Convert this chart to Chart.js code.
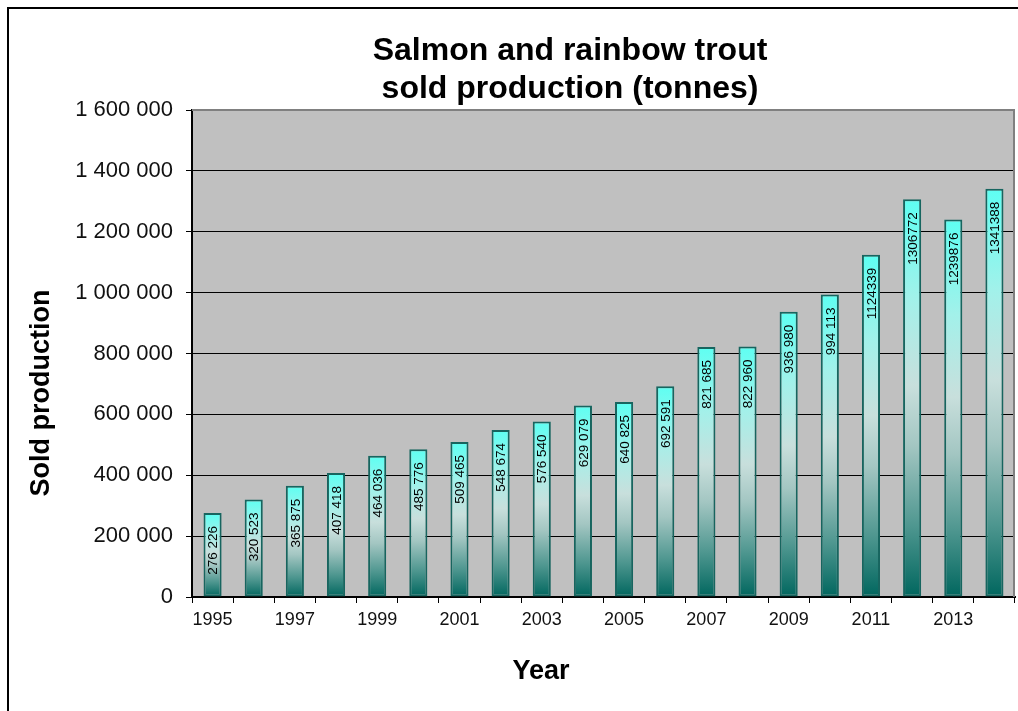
<!DOCTYPE html>
<html>
<head>
<meta charset="utf-8">
<script src="https://cdn.jsdelivr.net/npm/chart.js@4.4.1/dist/chart.umd.min.js"></script>
<style>
  html, body { margin: 0; padding: 0; background: #fff; }
  #wrap { width: 1018px; height: 711px; position: relative; }
</style>
</head>
<body>
<div id="wrap"><canvas id="salmon"></canvas></div>
<script>
var years = ["1995", "1996", "1997", "1998", "1999", "2000", "2001", "2002", "2003", "2004",
             "2005", "2006", "2007", "2008", "2009", "2010", "2011", "2012", "2013", "2014"];
var sold = [276226, 320523, 365875, 407418, 464036, 485776, 509465, 548674, 576540, 629079,
            640825, 692591, 821685, 822960, 936980, 994113, 1124339, 1306772, 1239876, 1341388];
var yTicks = [0, 200000, 400000, 600000, 800000, 1000000, 1200000, 1400000, 1600000];

function spaced(n) {
  return String(n).replace(/\B(?=(\d{3})+(?!\d))/g, " ");
}
// values of a million and up are printed without grouping
function barText(n) {
  return n < 1000000 ? spaced(n) : String(n);
}

// each bar gets its own cyan -> pale -> teal fade
function barFill(c) {
  var chart = c.chart;
  if (!chart.chartArea || !chart.scales.y) return "#7fd9d0";
  var y = chart.scales.y;
  var top = y.getPixelForValue(c.raw);
  var base = y.getPixelForValue(0);
  var g = chart.ctx.createLinearGradient(0, top, 0, base);
  g.addColorStop(0, "#5efff2");
  g.addColorStop(0.25, "#a2f1ea");
  g.addColorStop(0.47, "#c8dfdc");
  g.addColorStop(0.62, "#a3c6c2");
  g.addColorStop(0.82, "#4f9790");
  g.addColorStop(1, "#00665e");
  return g;
}

var frame = {
  id: "frame",
  beforeDraw: function(chart) {
    var ctx = chart.ctx, a = chart.chartArea;
    ctx.save();
    ctx.fillStyle = "#c0c0c0";
    ctx.fillRect(a.left, a.top, a.right - a.left, a.bottom - a.top);
    // outer chart border
    ctx.strokeStyle = "#000";
    ctx.lineWidth = 2;
    ctx.beginPath();
    ctx.moveTo(8, 711);
    ctx.lineTo(8, 8);
    ctx.lineTo(1018, 8);
    ctx.stroke();
    ctx.restore();
  },
  beforeDatasetsDraw: function(chart) {
    var ctx = chart.ctx, a = chart.chartArea;
    ctx.save();
    ctx.strokeStyle = "#808080";
    ctx.lineWidth = 2;
    ctx.beginPath();
    ctx.moveTo(a.left, a.top);
    ctx.lineTo(a.right - 1, a.top);
    ctx.lineTo(a.right - 1, a.bottom);
    ctx.stroke();
    ctx.restore();
  },
  afterDraw: function(chart) {
    var ctx = chart.ctx;
    ctx.save();
    ctx.fillStyle = "#000";
    ctx.textAlign = "center";
    ctx.textBaseline = "middle";
    ctx.font = "bold 32px 'Liberation Sans', Arial, sans-serif";
    ctx.fillText("Salmon and rainbow trout", 570, 51);
    ctx.fillText("sold production (tonnes)", 570, 89);
    ctx.font = "bold 27px 'Liberation Sans', Arial, sans-serif";
    ctx.fillText("Year", 541, 672);
    ctx.translate(42, 393);
    ctx.rotate(-Math.PI / 2);
    ctx.fillText("Sold production", 0, 0);
    ctx.restore();
  }
};

var barLabels = {
  id: "barLabels",
  afterDatasetsDraw: function(chart) {
    var ctx = chart.ctx;
    var meta = chart.getDatasetMeta(0);
    ctx.save();
    ctx.fillStyle = "#000";
    ctx.font = "13.5px 'Liberation Sans', Arial, sans-serif";
    ctx.textAlign = "right";
    ctx.textBaseline = "middle";
    meta.data.forEach(function(bar, i) {
      ctx.save();
      ctx.translate(bar.x + 1, bar.y + 13);
      ctx.rotate(-Math.PI / 2);
      ctx.fillText(barText(sold[i]), 0, 0);
      ctx.restore();
    });
    ctx.restore();
  }
};

var chartEl = document.getElementById("salmon");
new Chart(chartEl, {
  type: "bar",
  data: {
    labels: years,
    datasets: [{
      label: "Sold production",
      data: sold,
      backgroundColor: barFill,
      borderColor: "#17655f",
      borderWidth: 2,
      borderSkipped: false,
      barPercentage: 0.44,
      categoryPercentage: 1
    }]
  },
  plugins: [frame, barLabels],
  options: {
    responsive: true,
    maintainAspectRatio: false,
    animation: false,
    layout: { padding: { top: 110, right: 3, left: 0, bottom: 0 } },
    plugins: {
      legend: { display: false },
      title: { display: false },
      tooltip: { enabled: false }
    },
    scales: {
      x: {
        grid: {
          offset: true,
          drawOnChartArea: false,
          drawTicks: true,
          tickLength: 6,
          color: "#000"
        },
        border: { color: "#000", width: 2 },
        ticks: {
          autoSkip: false,
          maxRotation: 0,
          padding: 6,
          color: "#111",
          font: { family: "'Liberation Sans', Arial, sans-serif", size: 18 },
          callback: function(v, i) { return i % 2 === 0 ? years[i] : ""; }
        },
        afterFit: function(s) { s.height = 114; }
      },
      y: {
        min: 0,
        max: 1600000,
        afterBuildTicks: function(s) {
          s.ticks = yTicks.map(function(v) { return { value: v }; });
        },
        grid: { color: "#000", lineWidth: 1, tickLength: 6 },
        border: { color: "#000", width: 2 },
        ticks: {
          padding: 13,
          color: "#111",
          font: { family: "'Liberation Sans', Arial, sans-serif", size: 22 },
          callback: function(v) { return spaced(v); }
        },
        afterFit: function(s) { s.width = 192; }
      }
    }
  }
});
</script>
</body>
</html>
